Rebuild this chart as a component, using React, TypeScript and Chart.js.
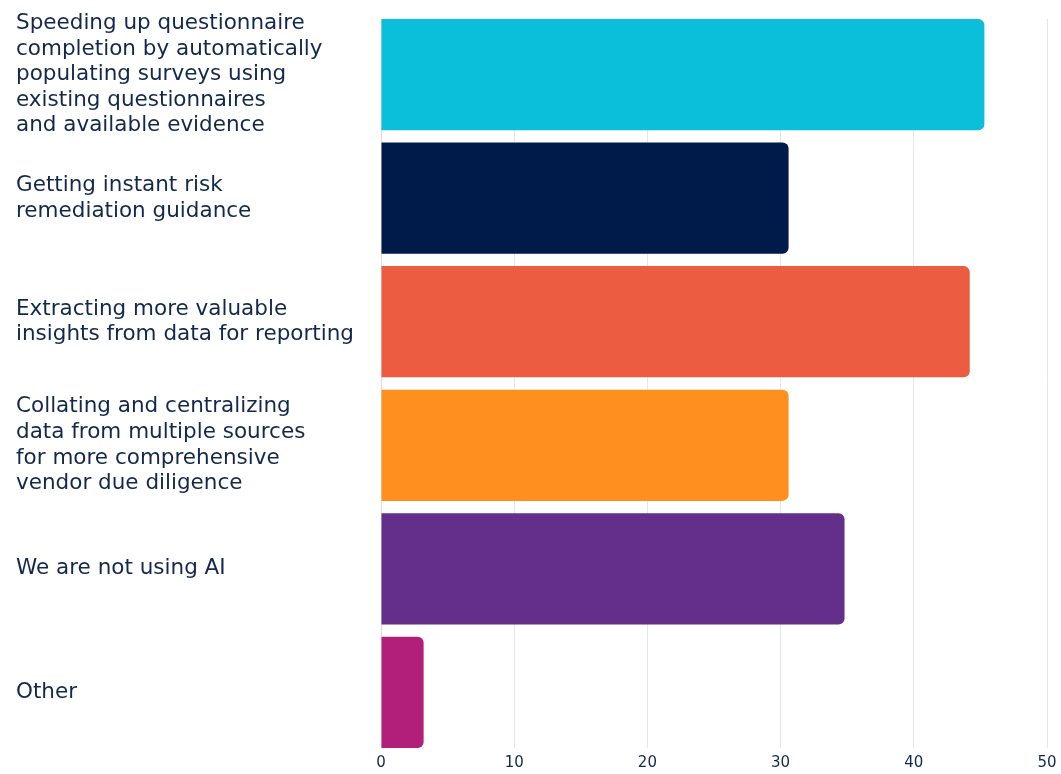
import React, { useEffect, useRef } from "react";
import { Chart, registerables } from "chart.js";

Chart.register(...registerables);

const categories: string[][] = [
  ["Speeding up questionnaire", "completion by automatically", "populating surveys using", "existing questionnaires", "and available evidence"],
  ["Getting instant risk", "remediation guidance"],
  ["Extracting more valuable", "insights from data for reporting"],
  ["Collating and centralizing", "data from multiple sources", "for more comprehensive", "vendor due diligence"],
  ["We are not using AI"],
  ["Other"],
];
const values: number[] = [45.3, 30.6, 44.2, 30.6, 34.8, 3.2];
const barColors: string[] = ["#0BBFDB", "#001A4A", "#EB5C40", "#FF8F1F", "#642F8A", "#B11F7B"];
const xTicks: number[] = [0, 10, 20, 30, 40, 50];

const TEXT = "#13294B";
const FONT = "'DejaVu Sans', sans-serif";

export default function App() {
  const ref = useRef<HTMLCanvasElement | null>(null);
  useEffect(() => {
    if (!ref.current) return;
    const chart = new Chart(ref.current, {
      type: "bar",
      data: {
        datasets: [
          {
            data: values.map((v, i) => ({ x: v, y: i })) as any,
            backgroundColor: barColors,
            borderRadius: 6,
            borderSkipped: "start",
            barPercentage: 0.9,
            categoryPercentage: 1,
          },
        ],
      },
      options: {
        indexAxis: "y",
        animation: false,
        responsive: false,
        maintainAspectRatio: false,
        layout: { padding: { left: 16, top: 19, right: 14, bottom: 0 } },
        plugins: { legend: { display: false }, tooltip: { enabled: false } },
        scales: {
          x: {
            type: "linear",
            min: xTicks[0],
            max: xTicks[xTicks.length - 1],
            afterBuildTicks: (s: any) => {
              s.ticks = xTicks.map((v) => ({ value: v }));
            },
            afterFit: (s: any) => {
              s.height = 26;
              s.paddingLeft = 0;
              s.paddingRight = 0;
            },
            grid: { color: "#E6E6E6", drawTicks: false, lineWidth: 1 },
            border: { display: false },
            ticks: {
              color: TEXT,
              padding: 6,
              autoSkip: false,
              maxRotation: 0,
              font: { family: FONT, size: 15 },
            },
          },
          y: {
            type: "linear",
            reverse: true,
            offset: false,
            min: -0.45,
            max: 5.45,
            afterBuildTicks: (s: any) => {
              s.ticks = categories.map((_, i) => ({ value: i }));
            },
            afterFit: (s: any) => {
              s.width = 381 - 16;
              s.paddingTop = 0;
              s.paddingBottom = 0;
            },
            grid: { display: false, drawTicks: false, offset: false },
            border: { display: true, color: "#DDDDDD", width: 1 },
            ticks: {
              crossAlign: "far",
              color: TEXT,
              padding: 0,
              autoSkip: false,
              font: { family: FONT, size: 21.5, lineHeight: 1.19 },
              callback: (v: any) => categories[Number(v)] ?? "",
            },
          },
        },
      },
    });
    return () => chart.destroy();
  }, []);
  return (
    <div style={{ position: "absolute", left: 0, top: 0, width: 1061, height: 774, background: "#fff" }}>
      <canvas ref={ref} width={1061} height={774} style={{ display: "block" }} />
    </div>
  );
}
